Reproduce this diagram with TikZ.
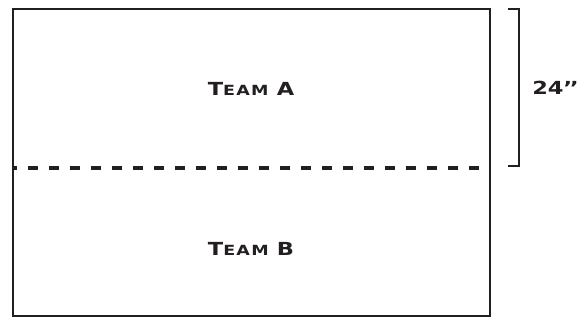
\documentclass[tikz,border=0pt]{standalone}
\usepackage{fontspec}
\setmainfont{DejaVu Sans}
\newfontfamily\widefont[FakeStretch=1.25]{DejaVu Sans}
\usepackage{tikz}

\definecolor{ink}{HTML}{231F20}
\newcommand{\capsmall}[2]{{\fontsize{18}{18}\selectfont #1}{\fontsize{14}{14}\selectfont #2}}

\begin{document}
\begin{tikzpicture}[x=1pt, y=-1pt, line width=2.6pt, draw=ink, text=ink,
    field/.style={draw=ink, line width=2.8pt},
    divider/.style={draw=ink, line width=3.2pt, dash pattern=on 10pt off 11pt, dash phase=6pt},
    bracket/.style={draw=ink, line width=2.2pt},
    teamlabel/.style={inner sep=0pt, font=\widefont\bfseries\addfontfeature{LetterSpace=9}},
    dimlabel/.style={inner sep=0pt, font=\widefont\bfseries\fontsize{18}{20}\selectfont, anchor=west}]
  \useasboundingbox (0,0) rectangle (585,327);
  % playing field
  \coordinate (nw) at (13,9);
  \coordinate (se) at (490,316);
  \draw[field] (nw) rectangle (se);
  % halfway line
  \coordinate (midL) at (13,168);
  \coordinate (midR) at (490,168);
  \draw[divider] (midL) -- (midR);
  \node[teamlabel] (teamA) at (251,89) {\capsmall{T}{EAM}\hspace{3pt} \capsmall{A}{}};
  \node[teamlabel] (teamB) at (251,249) {\capsmall{T}{EAM}\hspace{3pt} \capsmall{B}{}};
  % height bracket
  \coordinate (brTop) at (508,9);
  \coordinate (brBot) at (508,166);
  \draw[bracket] (brTop) -- ++(11,0) |- (brBot);
  \node[dimlabel] (height) at (531,88) {24’\kern-2pt’};
\end{tikzpicture}
\end{document}
